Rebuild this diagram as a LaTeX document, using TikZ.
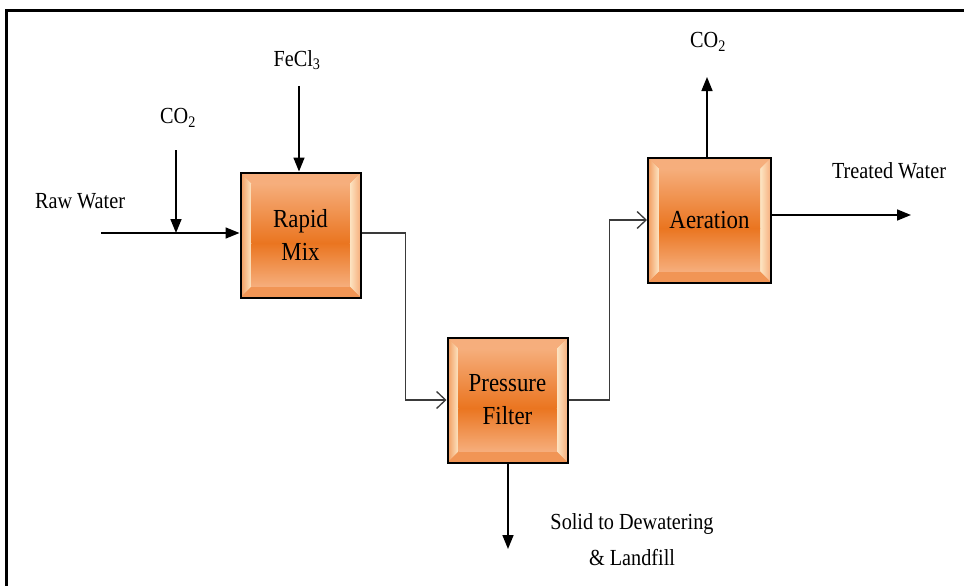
\documentclass[tikz,border=0pt]{standalone}
\usepackage{fontspec}
\setmainfont[FakeStretch=0.88]{Liberation Serif}
\usetikzlibrary{arrows.meta}
\definecolor{boxouter}{HTML}{F29B5E}
\definecolor{boxmid}{HTML}{EA7520}
\definecolor{boxlight}{HTML}{F6AE7C}
\definecolor{boxcream}{HTML}{FDE6C4}
\definecolor{linkgray}{HTML}{3A3A3A}
\tikzset{
  bevelbox/.style={draw=black, line width=2pt, minimum width=120pt, minimum height=125pt,
    align=center, inner sep=0pt, font=\rmfamily\fontsize{26}{33}\selectfont,
    path picture={
      \fill[boxouter] (path picture bounding box.south west) rectangle (path picture bounding box.north east);
      % left bevel
      \shade[left color=boxouter, right color=boxcream]
        (path picture bounding box.south west) -- (path picture bounding box.north west)
        -- ([shift={(11pt,-11pt)}]path picture bounding box.north west)
        -- ([shift={(11pt,11pt)}]path picture bounding box.south west) -- cycle;
      % right bevel
      \shade[left color=boxcream, right color=boxlight]
        (path picture bounding box.south east) -- (path picture bounding box.north east)
        -- ([shift={(-11pt,-11pt)}]path picture bounding box.north east)
        -- ([shift={(-11pt,11pt)}]path picture bounding box.south east) -- cycle;
      % top bevel
      \fill[boxlight]
        (path picture bounding box.north west) -- (path picture bounding box.north east)
        -- ([shift={(-11pt,-11pt)}]path picture bounding box.north east)
        -- ([shift={(11pt,-11pt)}]path picture bounding box.north west) -- cycle;
      % bottom bevel
      \fill[boxouter!85!boxmid]
        (path picture bounding box.south west) -- (path picture bounding box.south east)
        -- ([shift={(-11pt,11pt)}]path picture bounding box.south east)
        -- ([shift={(11pt,11pt)}]path picture bounding box.south west) -- cycle;
      % inner face, upper part
      \shade[top color=boxlight, bottom color=boxmid]
        ([shift={(11pt,-11pt)}]path picture bounding box.north west)
        rectangle ([shift={(-11pt,-8pt)}]path picture bounding box.east);
      % inner face, lower part
      \shade[top color=boxmid, bottom color=boxlight]
        ([shift={(11pt,-8pt)}]path picture bounding box.west)
        rectangle ([shift={(-11pt,11pt)}]path picture bounding box.south east);
    }},
  feed/.style={draw=black, line width=1.6pt, -{Triangle[length=14pt,width=11pt]}},
  link/.style={draw=linkgray, line width=1.3pt, -{Straight Barb[length=9pt,width=17pt,line width=1.3pt]}},
  lbl/.style={font=\rmfamily\fontsize{23}{29}\selectfont, inner sep=0pt, align=center},
  frameline/.style={draw=black, line width=3pt}
}
\begin{document}
\begin{tikzpicture}[x=1pt,y=-1pt]
\useasboundingbox (0,0) rectangle (964,586);
\fill[white] (0,0) rectangle (964,586);
% frame
\coordinate (fbl) at (6.5,590);
\coordinate (ftl) at (6.5,10.5);
\coordinate (ftr) at (968,10.5);
\draw[frameline] (fbl) -- (ftl) -- (ftr);

% boxes
\node[bevelbox] (rm) at (300.5,235) {Rapid\\Mix};
\node[bevelbox] (pf) at (507.5,400) {Pressure\\Filter};
\node[bevelbox, minimum width=123pt] (ae) at (709.5,220) {Aeration};

% labels
\node[lbl] (rwl) at (80,201) {Raw Water};
\node[lbl] (co2a) at (178,118) {CO\textsubscript{2}};
\node[lbl] (fel) at (297,60) {FeCl\textsubscript{3}};
\node[lbl] (co2b) at (708,42) {CO\textsubscript{2}};
\node[lbl] (twl) at (889,171) {Treated Water};
\node[lbl, font=\rmfamily\fontsize{23}{36}\selectfont] (sdl) at (632,540) {Solid to Dewatering\\\& Landfill};

% coordinates
\coordinate (rwin) at (101,233);
\coordinate (co2top) at (176,150);
\coordinate (j1) at (176,233);
\coordinate (fetop) at (299,86);
\coordinate (co2out) at (707,77);
\coordinate (twend) at (911,215);
\coordinate (sdend) at (508,549);

% feeds
\draw[feed] (rwin) -- (rwin -| rm.west);
\draw[feed] (co2top) -- (j1);
\draw[feed] (fetop) -- (fetop |- rm.north);
\draw[feed] (ae.north -| co2out) -- (co2out);
\draw[feed] (ae.east |- twend) -- (twend);
\draw[feed] (pf.south -| sdend) -- (sdend);

% links
\draw[link] (rm.east |- rwin) -- ++(44,0) |- (pf.west);
\draw[link] (pf.east) -- ++(41,0) |- (ae.west);
\end{tikzpicture}
\end{document}
